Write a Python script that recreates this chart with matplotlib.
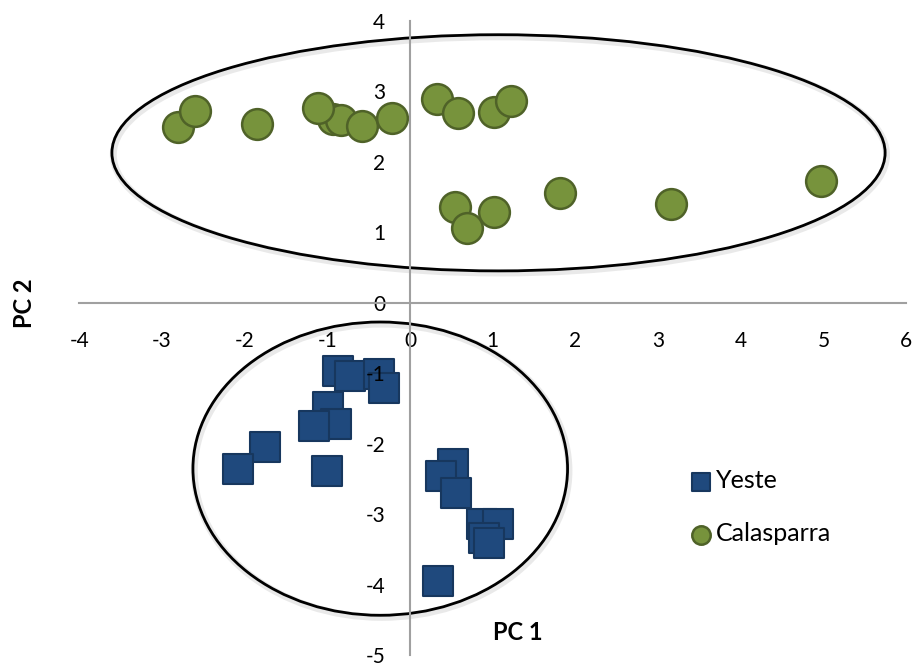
import matplotlib.pyplot as plt
from matplotlib.patches import Ellipse
import matplotlib.patheffects as pe

plt.rcParams['font.family'] = ['Lato', 'DejaVu Sans']
plt.rcParams['axes.unicode_minus'] = False

# PCA scores
yeste_pc1 = [-0.87, -0.73, -0.38, -0.31, -0.99, -0.89, -1.16, -1.75, -2.08, -1.01,
             0.52, 0.38, 0.55, 0.87, 1.06, 0.89, 0.95, 0.34]
yeste_pc2 = [-0.96, -1.04, -1.01, -1.20, -1.48, -1.72, -1.74, -2.04, -2.36, -2.38,
             -2.28, -2.45, -2.69, -3.13, -3.13, -3.34, -3.40, -3.94]

cala_pc1 = [-2.81, -2.60, -1.85, -0.93, -0.84, -1.11, -0.58, -0.22, 0.33, 0.58,
            1.02, 1.22, 0.54, 0.69, 1.02, 1.81, 3.15, 4.97]
cala_pc2 = [2.49, 2.73, 2.54, 2.61, 2.59, 2.76, 2.51, 2.63, 2.89, 2.70,
            2.71, 2.87, 1.36, 1.07, 1.29, 1.56, 1.40, 1.73]

# group ellipses: centre x, centre y, width, height
cala_ellipse = (1.07, 2.13, 9.35, 3.35)
yeste_ellipse = (-0.36, -2.35, 4.53, 4.16)

x_ticks = [-4, -3, -2, -1, 0, 1, 2, 3, 4, 5, 6]
y_ticks = [-5, -4, -3, -2, -1, 0, 1, 2, 3, 4]

fig = plt.figure(figsize=(9.15, 6.66), dpi=100)
ax = fig.add_axes([0.0866, 0.0158, 0.9038, 0.9527])

for cx, cy, w, h in [cala_ellipse, yeste_ellipse]:
    e = Ellipse((cx, cy), w, h, fill=False, edgecolor='black', linewidth=2.0, zorder=0.8)
    e.set_path_effects([pe.SimpleLineShadow(offset=(1, -1.5), shadow_color='#888888',
                                            alpha=0.18, linewidth=5),
                        pe.Normal()])
    ax.add_patch(e)

ax.scatter(yeste_pc1, yeste_pc2, marker='s', s=460, color='#1F497D',
           edgecolor='#17375E', linewidth=1.5, label='Yeste', zorder=1)
ax.scatter(cala_pc1, cala_pc2, marker='o', s=490, color='#77933C',
           edgecolor='#4F6228', linewidth=1.8, label='Calasparra', zorder=1)

ax.set_xlim(-4, 6)
ax.set_ylim(-5, 4)
ax.set_xticks(x_ticks)
ax.set_yticks(y_ticks)

for side in ['top', 'right']:
    ax.spines[side].set_visible(False)
ax.spines['left'].set_position(('data', 0))
ax.spines['bottom'].set_position(('data', 0))
for side in ['left', 'bottom']:
    ax.spines[side].set_color('#A0A0A0')
    ax.spines[side].set_linewidth(1.5)

ax.tick_params(axis='x', length=0, pad=20, labelsize=15)
ax.tick_params(axis='y', length=0, pad=18, labelsize=15)

fig.text(0.027, 0.545, 'PC 2', rotation=90, fontsize=17, fontweight='bold',
         ha='center', va='center')
fig.text(0.566, 0.05, 'PC 1', fontsize=17, fontweight='bold', ha='center', va='center')

ax.legend(loc='center left', bbox_to_anchor=(0.728, 0.238), bbox_transform=fig.transFigure,
          frameon=False, fontsize=18, markerscale=0.6, handletextpad=0.1,
          labelspacing=1.2, handlelength=1.0)

plt.savefig('out.png', dpi=100)
